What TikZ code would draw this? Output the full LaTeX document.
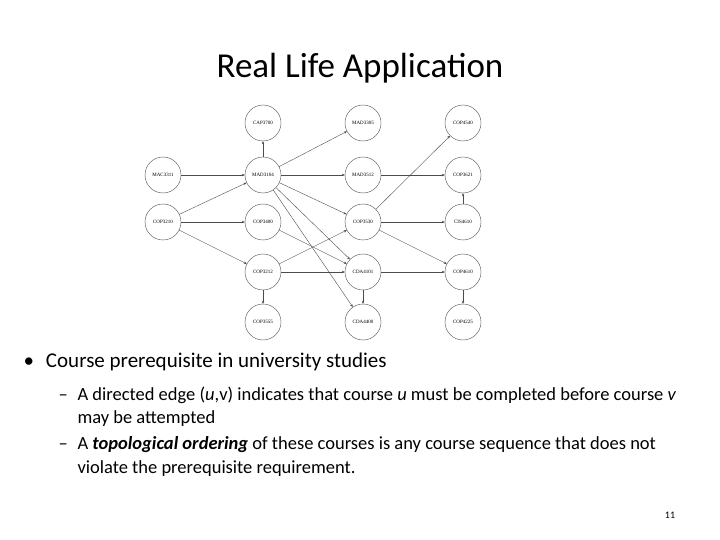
\documentclass[tikz,border=0pt]{standalone}
\usepackage{fontspec}
\setmainfont{Carlito}
\newfontfamily\nodefont{Liberation Serif}
\usetikzlibrary{arrows.meta}
\begin{document}
\begin{tikzpicture}[x=1pt,y=-1pt,
  crs/.style={circle,draw=black!70,thin,minimum size=36pt,inner sep=0pt,font=\fontsize{5}{6}\nodefont},
  ed/.style={-{Stealth[length=3pt,width=2.5pt]},black!70,thin},
  sub/.style={anchor=north west,font=\fontsize{18.5}{23.5}\selectfont,text width=622pt,align=flush left}]
\useasboundingbox (0,0) rectangle (720,540);
\node[font=\fontsize{35}{42}\selectfont] (title) at (360,68) {Real Life Application};
\node[crs] (cap) at (263,123) {CAP3700};
\node[crs] (mad5) at (363,123) {MAD3305};
\node[crs] (c4540) at (463,123) {COP4540};
\node[crs] (mac) at (163,175) {MAC3311};
\node[crs] (mad1) at (263,175) {MAD3104};
\node[crs] (mad2) at (363,175) {MAD3512};
\node[crs] (c3621) at (463,175) {COP3621};
\node[crs] (c3210) at (163,222) {COP3210};
\node[crs] (c3400) at (263,222) {COP3400};
\node[crs] (c3530) at (363,222) {COP3530};
\node[crs] (cis) at (463,222) {CIS4610};
\node[crs] (c3212) at (263,272) {COP3212};
\node[crs] (cda1) at (363,272) {CDA4101};
\node[crs] (c4610) at (463,272) {COP4610};
\node[crs] (c3555) at (263,322) {COP3555};
\node[crs] (cda4) at (363,322) {CDA4400};
\node[crs] (c4225) at (463,322) {COP4225};
\draw[ed] (mad1)--(cap);
\draw[ed] (mac)--(mad1);
\draw[ed] (c3210)--(mad1);
\draw[ed] (c3210)--(c3400);
\draw[ed] (c3210)--(c3212);
\draw[ed] (mad1)--(mad5);
\draw[ed] (mad1)--(mad2);
\draw[ed] (mad1)--(c3530);
\draw[ed] (mad1)--(cda1);
\draw[ed] (mad1)--(cda4);
\draw[ed] (c3400)--(cda1);
\draw[ed] (c3212)--(c3530);
\draw[ed] (c3212)--(cda1);
\draw[ed] (c3212)--(c3555);
\draw[ed] (mad2)--(c3621);
\draw[ed] (c3530)--(c4540);
\draw[ed] (c3530)--(cis);
\draw[ed] (c3530)--(c4610);
\draw[ed] (cis)--(c3621);
\draw[ed] (cda1)--(c4610);
\draw[ed] (cda1)--(cda4);
\draw[ed] (c4610)--(c4225);
\node[anchor=west,font=\fontsize{21}{25}\selectfont] (b1) at (20,362) {\textbullet\hspace{12pt}Course prerequisite in university studies};
\node[sub] (b2) at (74,383) {\hspace*{-19pt}\makebox[19pt][l]{\textendash}A directed edge (\textit{u},v) indicates that course \textit{u} must be completed before course \textit{v} may be attempted};
\node[sub] (b3) at (74,433) {\hspace*{-19pt}\makebox[19pt][l]{\textendash}A \textbf{\textit{topological ordering}} of these courses is any course sequence that does not violate the prerequisite requirement.};
\node[font=\fontsize{10}{12}\selectfont] (pg) at (670,515) {11};
\end{tikzpicture}
\end{document}
